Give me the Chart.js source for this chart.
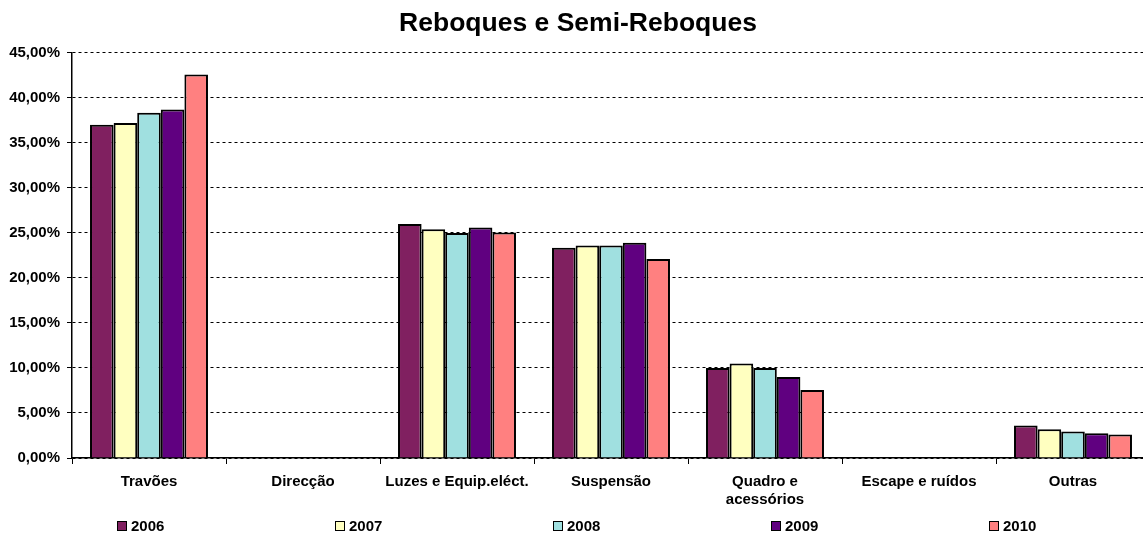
<!DOCTYPE html>
<html>
<head>
<meta charset="utf-8">
<script src="https://cdn.jsdelivr.net/npm/chart.js@4/dist/chart.umd.min.js"></script>
<style>
  html, body { margin: 0; padding: 0; background: #fff; overflow: hidden; }
  #wrap { position: relative; width: 1143px; height: 534px; overflow: hidden; }
  #chart { position: absolute; left: 0; top: 0; }
  #legend { position: absolute; left: 0; top: 517px; width: 1143px; height: 17px;
            font: bold 15px "Liberation Sans", Arial, sans-serif; color: #000; }
  #legend .item { position: absolute; top: 0; display: flex; align-items: center; white-space: nowrap; line-height: 17px; }
  #legend .box { width: 8px; height: 8px; border: 1px solid #000; margin-right: 4px; }
</style>
</head>
<body>
<div id="wrap">
  <canvas id="chart" width="1150" height="534"></canvas>
  <div id="legend"></div>
</div>
<script>
const categories = ['Travões', 'Direcção', 'Luzes e Equip.eléct.', 'Suspensão',
                    ['Quadro e', 'acessórios'], 'Escape e ruídos', 'Outras'];
const years = ['2006', '2007', '2008', '2009', '2010'];
const v2006 = [37.0, 0, 26.0, 23.35, 10.0, 0, 3.6];
const v2007 = [37.2, 0, 25.4, 23.6, 10.5, 0, 3.2];
const v2008 = [38.35, 0, 25.0, 23.6, 10.0, 0, 2.95];
const v2009 = [38.7, 0, 25.6, 23.9, 9.0, 0, 2.75];
const v2010 = [42.6, 0, 25.05, 22.1, 7.55, 0, 2.6];

const colors = ['#802060', '#FFFFC0', '#A0E0E0', '#600080', '#FF8080'];
const series = [v2006, v2007, v2008, v2009, v2010];
const legendX = [117, 335, 553, 771, 989];

const font = { family: '"Liberation Sans", Arial, sans-serif', weight: 'bold', size: 15 };

const ctx = document.getElementById('chart').getContext('2d');
new Chart(ctx, {
    type: 'bar',
    data: {
        labels: categories,
        datasets: years.map((y, i) => ({
            label: y,
            data: series[i],
            backgroundColor: colors[i],
            borderColor: '#000',
            borderWidth: c => (c.raw ? 2 : 0),
            barPercentage: 1,
            categoryPercentage: 0.766
        }))
    },
    options: {
        responsive: false,
        animation: false,
        layout: { padding: { top: 0, right: 0, bottom: 16, left: 6 } },
        plugins: {
            legend: { display: false },
            tooltip: { enabled: false },
            title: {
                display: true,
                text: 'Reboques e Semi-Reboques',
                color: '#000',
                font: { family: font.family, weight: 'bold', size: 26.5 },
                padding: { top: 8, bottom: 13 }
            }
        },
        scales: {
            x: {
                offset: true,
                grid: { offset: true, drawOnChartArea: false, drawTicks: true, tickLength: 6, color: '#000' },
                border: { color: '#000', width: 1.5 },
                ticks: { color: '#000', font: font, maxRotation: 0, autoSkip: false, padding: 9 },
                afterFit: s => { s.height = 60; }
            },
            y: {
                min: 0,
                max: 45,
                ticks: {
                    stepSize: 5,
                    color: '#000',
                    font: font,
                    padding: 7,
                    callback: v => v.toFixed(2).replace('.', ',') + '%'
                },
                grid: { color: '#000', tickLength: 5, tickBorderDash: [], tickColor: '#000' },
                border: { color: '#000', width: 1.5, dash: [3, 3] },
                afterFit: s => { s.width = 66; }
            }
        }
    }
});

// legend drawn as html, spaced like the original
const legend = document.getElementById('legend');
years.forEach((y, i) => {
    const item = document.createElement('div');
    item.className = 'item';
    item.style.left = legendX[i] + 'px';
    item.innerHTML = '<span class="box" style="background:' + colors[i] + '"></span>' + y;
    legend.appendChild(item);
});
</script>
</body>
</html>
